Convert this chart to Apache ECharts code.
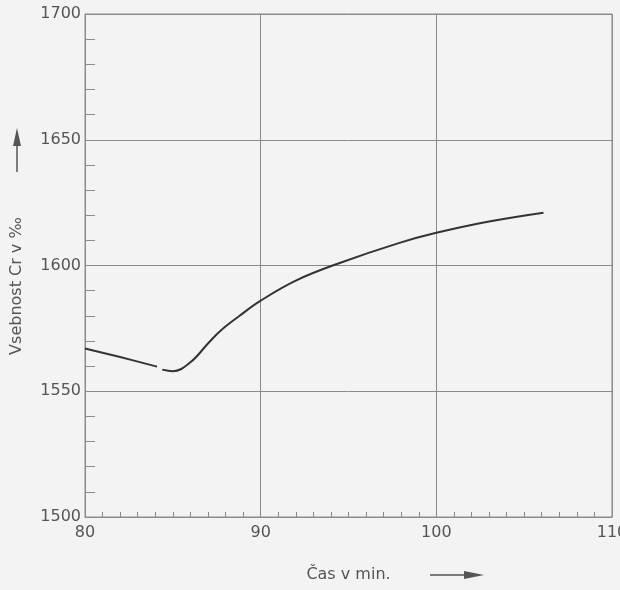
<!DOCTYPE html>
<html>
<head>
<meta charset="utf-8">
<script src="https://cdn.jsdelivr.net/npm/echarts@6/dist/echarts.min.js"></script>
<style>
  html, body { margin: 0; padding: 0; background: #f3f3f3; }
  #chart { width: 620px; height: 590px; }
</style>
</head>
<body>
<div id="chart"></div>
<script>
// Čas v min. (x) / Vsebnost Cr (y); null = small break in the line
const casMin = [80, 82, 84.1, 84.25, 84.4, 85, 86, 87, 87.7, 88.8, 90, 92, 94.5, 97.9, 100, 103, 106.1];
const vsebnost = [1567, 1563.6, 1559.8, null, 1558.6, 1558, 1561.5, 1569, 1574, 1580, 1586, 1594, 1601, 1609, 1613, 1617.5, 1621];
const xTicks = [80, 90, 100, 110];
const yTicks = [1500, 1550, 1600, 1650, 1700];

const font = "DejaVu Sans";
const gray = "#8a8a8a";

const chart = echarts.init(document.getElementById("chart"));

chart.setOption({
  backgroundColor: "#f3f3f3",
  animation: false,
  grid: {
    left: 85, right: 8, top: 14, bottom: 73,
    containLabel: false, outerBoundsMode: "none",
    show: true, borderColor: gray, borderWidth: 1
  },
  xAxis: {
    type: "value",
    min: xTicks[0],
    max: xTicks[xTicks.length - 1],
    interval: 10,
    name: "Čas v min.",
    nameLocation: "middle",
    nameGap: 50,
    nameTextStyle: { fontFamily: font, fontSize: 16, color: "#555" },
    axisLine: { show: true, lineStyle: { color: gray } },
    axisTick: { show: false, inside: true },
    minorTick: { show: true, splitNumber: 10, length: 5, lineStyle: { color: gray } },
    axisLabel: { fontFamily: font, fontSize: 16, color: "#555", margin: 8, formatter: v => String(v) },
    splitLine: { show: true, lineStyle: { color: gray, width: 1 } }
  },
  yAxis: {
    type: "value",
    min: yTicks[0],
    max: yTicks[yTicks.length - 1],
    interval: 50,
    axisLine: { show: true, lineStyle: { color: gray } },
    axisTick: { show: false, inside: true },
    minorTick: { show: true, splitNumber: 5, length: 10, lineStyle: { color: gray } },
    axisLabel: { fontFamily: font, fontSize: 16, color: "#555", margin: 4, formatter: v => String(v) },
    splitLine: { show: true, lineStyle: { color: gray, width: 1 } }
  },
  series: [
    {
      type: "line",
      smooth: 0.4,
      showSymbol: false,
      connectNulls: false,
      lineStyle: { color: "#333", width: 2 },
      data: casMin.map((x, i) => [x, vsebnost[i] === null ? "-" : vsebnost[i]])
    }
  ],
  graphic: [
    {
      type: "text",
      x: 17,
      y: 286,
      rotation: Math.PI / 2,
      style: {
        text: "Vsebnost Cr v ‰",
        fontFamily: font,
        fontSize: 16,
        fill: "#555",
        align: "center",
        verticalAlign: "middle"
      }
    },
    // arrows next to the axis titles
    { type: "line", shape: { x1: 17, y1: 172, x2: 17, y2: 140 }, style: { stroke: "#555", lineWidth: 1.5 } },
    { type: "polygon", shape: { points: [[13, 146], [21, 146], [17, 128]] }, style: { fill: "#555" } },
    { type: "line", shape: { x1: 430, y1: 575, x2: 470, y2: 575 }, style: { stroke: "#555", lineWidth: 1.5 } },
    { type: "polygon", shape: { points: [[464, 571], [464, 579], [484, 575]] }, style: { fill: "#555" } }
  ]
});

window.addEventListener("resize", () => chart.resize());
</script>
</body>
</html>
